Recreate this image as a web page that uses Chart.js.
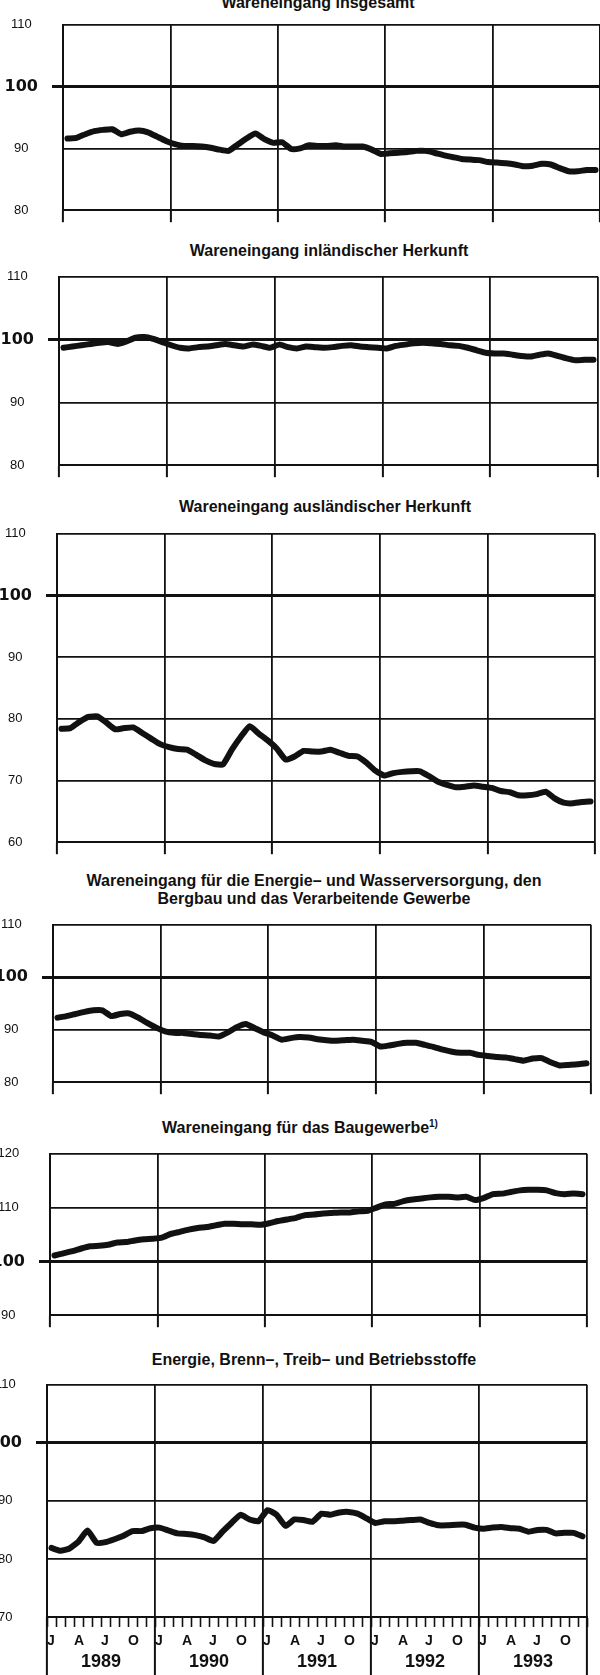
<!DOCTYPE html>
<html>
<head>
<meta charset="utf-8">
<script src="https://cdn.jsdelivr.net/npm/chart.js@4.4.0/dist/chart.umd.min.js"></script>
<style>
  body { margin: 0; background: #fff; width: 600px; height: 1675px; position: relative; overflow: hidden; font-family: "Liberation Sans", Arial, sans-serif; }
  canvas { position: absolute; left: 0; }
  .title { position: absolute; transform: translateX(-50%); white-space: nowrap; font-weight: bold; font-size: 16px; line-height: 18px; color: #111; text-align: center; }
  .title sup { font-size: 10px; }
</style>
</head>
<body>
<script>
const years = ['1989', '1990', '1991', '1992', '1993'];
const monthLetters = { 0: 'J', 3: 'A', 6: 'J', 9: 'O' };

// monthly index values, Jan 1989 .. Dec 1993
const insgesamt = [
  91.6, 91.7, 92.3, 92.8, 93.0, 93.1, 92.3, 92.7, 92.9, 92.6, 91.9, 91.2,
  90.7, 90.4, 90.4, 90.3, 90.1, 89.8, 89.6, 90.6, 91.6, 92.4, 91.5, 90.9,
  91.0, 89.9, 90.0, 90.5, 90.4, 90.4, 90.5, 90.3, 90.3, 90.3, 89.8, 89.1,
  89.2, 89.3, 89.4, 89.6, 89.6, 89.3, 88.9, 88.6, 88.3, 88.2, 88.1, 87.8,
  87.7, 87.6, 87.4, 87.1, 87.2, 87.5, 87.4, 86.8, 86.3, 86.3, 86.5, 86.5
];
const inlaendisch = [
  98.7, 98.9, 99.1, 99.3, 99.5, 99.6, 99.3, 99.7, 100.3, 100.4, 100.1, 99.6,
  99.1, 98.7, 98.6, 98.8, 98.9, 99.1, 99.3, 99.1, 98.9, 99.2, 99.0, 98.7,
  99.2, 98.8, 98.6, 98.9, 98.8, 98.7, 98.8, 99.0, 99.1, 98.9, 98.8, 98.7,
  98.6, 99.0, 99.2, 99.4, 99.5, 99.4, 99.3, 99.1, 99.0, 98.7, 98.3, 97.9,
  97.8, 97.8, 97.6, 97.4, 97.3, 97.6, 97.8, 97.4, 97.0, 96.7, 96.8, 96.8
];
const auslaendisch = [
  78.4, 78.5, 79.5, 80.3, 80.4, 79.4, 78.3, 78.5, 78.6, 77.7, 76.8, 75.9,
  75.4, 75.1, 75.0, 74.2, 73.3, 72.7, 72.6, 75.0, 77.1, 78.8, 77.6, 76.5,
  75.2, 73.4, 73.9, 74.8, 74.7, 74.7, 75.0, 74.5, 74.0, 73.9, 72.9, 71.6,
  70.8, 71.2, 71.4, 71.5, 71.5, 70.7, 69.8, 69.3, 68.9, 69.0, 69.2, 69.0,
  68.8, 68.3, 68.1, 67.6, 67.6, 67.8, 68.2, 67.1, 66.4, 66.3, 66.5, 66.6
];
const energieWasser = [
  92.3, 92.6, 93.0, 93.4, 93.7, 93.7, 92.6, 93.0, 93.1, 92.3, 91.3, 90.4,
  89.7, 89.4, 89.4, 89.2, 89.0, 88.9, 88.7, 89.5, 90.5, 91.1, 90.3, 89.5,
  88.9, 88.1, 88.4, 88.6, 88.5, 88.2, 88.0, 87.9, 88.0, 88.1, 87.9, 87.7,
  86.8, 87.0, 87.3, 87.5, 87.5, 87.1, 86.7, 86.2, 85.8, 85.6, 85.6, 85.2,
  85.0, 84.8, 84.7, 84.4, 84.1, 84.5, 84.6, 83.8, 83.2, 83.3, 83.4, 83.6
];
const baugewerbe = [
  101.1, 101.5, 101.9, 102.4, 102.8, 102.9, 103.1, 103.5, 103.6, 103.9, 104.1, 104.2,
  104.4, 105.1, 105.5, 105.9, 106.2, 106.4, 106.7, 107.0, 107.0, 106.9, 106.9, 106.8,
  107.1, 107.5, 107.8, 108.1, 108.6, 108.7, 108.9, 109.0, 109.1, 109.1, 109.3, 109.4,
  110.0, 110.6, 110.7, 111.2, 111.5, 111.7, 111.9, 112.0, 112.0, 111.9, 112.0, 111.4,
  111.8, 112.5, 112.6, 112.9, 113.2, 113.3, 113.3, 113.2, 112.7, 112.5, 112.6, 112.5
];
const energieStoffe = [
  81.9, 81.4, 81.8, 83.0, 84.9, 82.8, 82.9, 83.4, 84.0, 84.8, 84.8, 85.3,
  85.4, 84.9, 84.4, 84.3, 84.1, 83.7, 83.1, 84.7, 86.2, 87.6, 86.8, 86.5,
  88.4, 87.6, 85.7, 86.8, 86.7, 86.4, 87.8, 87.6, 88.0, 88.1, 87.8, 87.0,
  86.2, 86.5, 86.5, 86.6, 86.7, 86.8, 86.2, 85.8, 85.8, 85.9, 85.9, 85.4,
  85.2, 85.4, 85.5, 85.3, 85.2, 84.7, 85.0, 85.0, 84.4, 84.5, 84.5, 83.9
];

const panels = [
  { data: insgesamt, min: 80, max: 110, title: 'Wareneingang insgesamt',
    box: { top: 19, bottom: 216, left: 63, right: 600 }, titleX: 318, titleY: -6 },
  { data: inlaendisch, min: 80, max: 110, title: 'Wareneingang inländischer Herkunft',
    box: { top: 271, bottom: 471, left: 59, right: 598 }, titleX: 329, titleY: 242 },
  { data: auslaendisch, min: 60, max: 110, title: 'Wareneingang ausländischer Herkunft',
    box: { top: 528, bottom: 848, left: 57, right: 595 }, titleX: 325, titleY: 498 },
  { data: energieWasser, min: 80, max: 110, title: 'Wareneingang für die Energie– und Wasserversorgung, den<br>Bergbau und das Verarbeitende Gewerbe',
    box: { top: 919, bottom: 1088, left: 53, right: 591 }, titleX: 314, titleY: 872 },
  { data: baugewerbe, min: 90, max: 120, title: 'Wareneingang für das Baugewerbe<sup>1)</sup>',
    box: { top: 1148, bottom: 1321, left: 50, right: 587 }, titleX: 300, titleY: 1115 },
  { data: energieStoffe, min: 70, max: 110, title: 'Energie, Brenn–, Treib– und Betriebsstoffe',
    box: { top: 1379, bottom: 1617, left: 47, right: 587 }, titleX: 314, titleY: 1351 }
];

const ink = '#111';
const clear = 'rgba(0,0,0,0)';

function isHundred(ctx) {
    return ctx.tick && ctx.tick.value === 100;
}

function isYearLine(ctx) {
    return ctx.tick && ctx.tick.value % 12 === 0;
}

function makePanel(p, last) {
    const t = document.createElement('div');
    t.className = 'title';
    t.style.left = p.titleX + 'px';
    t.style.top = p.titleY + 'px';
    t.innerHTML = p.title;
    document.body.appendChild(t);

    const canvasTop = p.box.top - 16;
    const canvasBottom = last ? 1675 : p.box.bottom + 16;
    const h = canvasBottom - canvasTop;
    const xHeight = last ? 58 : 14;

    const canvas = document.createElement('canvas');
    canvas.width = 600;
    canvas.height = h;
    canvas.style.top = canvasTop + 'px';
    document.body.appendChild(canvas);

    const points = p.data.map((v, i) => ({ x: i + 0.5, y: v }));

    const scales = {
        y: {
            min: p.min,
            max: p.max,
            afterFit: s => { s.width = p.box.left; },
            ticks: {
                stepSize: 10,
                crossAlign: 'center',
                padding: 14,
                color: ink,
                font: ctx => isHundred(ctx)
                    ? { family: 'DejaVu Sans', weight: 'bold', size: 16 }
                    : { family: 'Liberation Sans', size: 13 }
            },
            grid: {
                color: ink,
                lineWidth: ctx => isHundred(ctx) ? 3 : 1.7,
                tickLength: 11,
                tickColor: ctx => isHundred(ctx) ? ink : clear,
                tickWidth: 3
            },
            border: { color: ink, width: 2 }
        }
    };

    if (!last) {
        scales.x = {
            type: 'linear', min: 0, max: 60,
            afterFit: s => { s.height = xHeight; },
            ticks: { display: false, stepSize: 12, autoSkip: false },
            grid: { color: ink, lineWidth: 1.8, tickLength: 12, tickColor: ink, tickWidth: 2 },
            border: { color: ink, width: 2 }
        };
    } else {
        // month ticks and letters; mirrored so the labels are not clipped by the zero-height box
        scales.x = {
            type: 'linear', min: 0, max: 60, weight: 0,
            afterFit: s => { s.height = 0; },
            ticks: {
                stepSize: 1, autoSkip: false, maxRotation: 0, align: 'start',
                mirror: true, padding: -33,
                color: ink,
                font: { family: 'Liberation Sans', weight: 'bold', size: 14 },
                callback: v => (v < 60 && monthLetters[v % 12]) || ''
            },
            grid: { drawOnChartArea: false, tickLength: 10, tickColor: ink, tickWidth: 1.6 },
            border: { color: ink, width: 2 }
        };
        scales.years = {
            type: 'linear', position: 'bottom', min: 0, max: 60, weight: 1,
            afterFit: s => { s.height = xHeight; },
            ticks: {
                stepSize: 6, autoSkip: false, maxRotation: 0, padding: -24,
                color: ink,
                font: { family: 'Liberation Sans', weight: 'bold', size: 18 },
                callback: v => v % 12 === 6 ? years[(v - 6) / 12] : ''
            },
            grid: {
                color: ctx => isYearLine(ctx) ? ink : clear,
                lineWidth: 1.8,
                tickLength: 58,
                tickColor: ctx => isYearLine(ctx) ? ink : clear,
                tickWidth: 2
            },
            border: { display: false }
        };
    }

    new Chart(canvas.getContext('2d'), {
        type: 'line',
        data: {
            datasets: [{
                data: points,
                borderColor: ink,
                borderWidth: 6,
                pointRadius: 0,
                tension: 0.15,
                borderJoinStyle: 'round',
                borderCapStyle: 'round',
                xAxisID: 'x',
                yAxisID: 'y'
            }]
        },
        options: {
            responsive: false,
            animation: false,
            layout: {
                padding: {
                    top: p.box.top - canvasTop,
                    right: 600 - p.box.right,
                    bottom: h - (p.box.bottom - canvasTop) - xHeight,
                    left: 0
                }
            },
            plugins: { legend: { display: false }, tooltip: { enabled: false } },
            scales: scales
        }
    });
}

panels.forEach((p, i) => makePanel(p, i === panels.length - 1));
</script>
</body>
</html>
